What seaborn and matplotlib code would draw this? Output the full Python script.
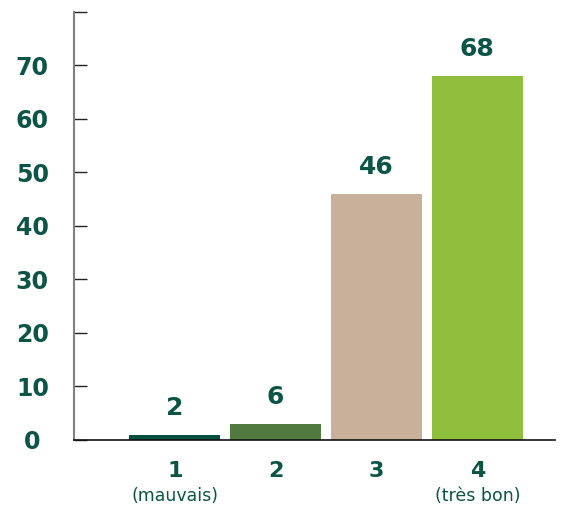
import matplotlib
matplotlib.use("Agg")
import matplotlib.pyplot as plt
import seaborn as sns
import pandas as pd

# data
categories = ["1", "2", "3", "4"]
sublabels = ["(mauvais)", "", "", "(très bon)"]
bar_heights = [1, 3, 46, 68]          # drawn heights
value_labels = ["2", "6", "46", "68"]  # printed values
bar_colors = ["#02503f", "#517a41", "#c8b09a", "#90bf3d"]
y_ticks = [0, 10, 20, 30, 40, 50, 60, 70, 80]
y_ticklabels = ["0", "10", "20", "30", "40", "50", "60", "70", ""]

text_color = "#0b5446"

df = pd.DataFrame({"cat": categories, "val": bar_heights})

sns.set_style("white")
plt.rcParams["font.family"] = ["DejaVu Sans"]

fig = plt.figure(figsize=(5.68, 5.09), dpi=100)
ax = fig.add_axes([0.1303, 0.1356, 0.8468, 0.8409])

sns.barplot(data=df, x="cat", y="val", hue="cat", palette=bar_colors,
            width=0.9, legend=False, saturation=1, ax=ax)

for c in ax.containers:
    for p in c.patches:
        p.set_edgecolor("none")

ax.set_xlim(-1.0, 3.77)
ax.set_ylim(0, 80)

# value labels above bars
for i, (h, lab) in enumerate(zip(bar_heights, value_labels)):
    ax.annotate(lab, (i, h), xytext=(0, 19.5), textcoords="offset points",
                ha="center", va="center", fontsize=18, fontweight="bold",
                color=text_color)

ax.set_yticks(y_ticks)
ax.set_yticklabels(y_ticklabels)
ax.tick_params(axis="y", left=True, direction="in", length=9.5, width=1,
               color="#222222", pad=30, labelsize=17, labelcolor=text_color)
for t in ax.get_yticklabels():
    t.set_fontweight("bold")
    t.set_horizontalalignment("center")

ax.set_xticks(range(len(categories)))
ax.set_xticklabels(categories)
ax.tick_params(axis="x", length=0, pad=15, labelsize=16, labelcolor=text_color)
for t in ax.get_xticklabels():
    t.set_fontweight("bold")

for i, s in enumerate(sublabels):
    if s:
        ax.annotate(s, (i, 0), xycoords=("data", "axes fraction"),
                    xytext=(0, -40), textcoords="offset points",
                    ha="center", va="center", fontsize=12.5, color=text_color)

ax.set_xlabel("")
ax.set_ylabel("")

for side in ["top", "right"]:
    ax.spines[side].set_visible(False)
ax.spines["left"].set_color("#808080")
ax.spines["left"].set_linewidth(1.5)
ax.spines["bottom"].set_color("#111111")
ax.spines["bottom"].set_linewidth(1.2)

fig.savefig("out.png", dpi=100)
